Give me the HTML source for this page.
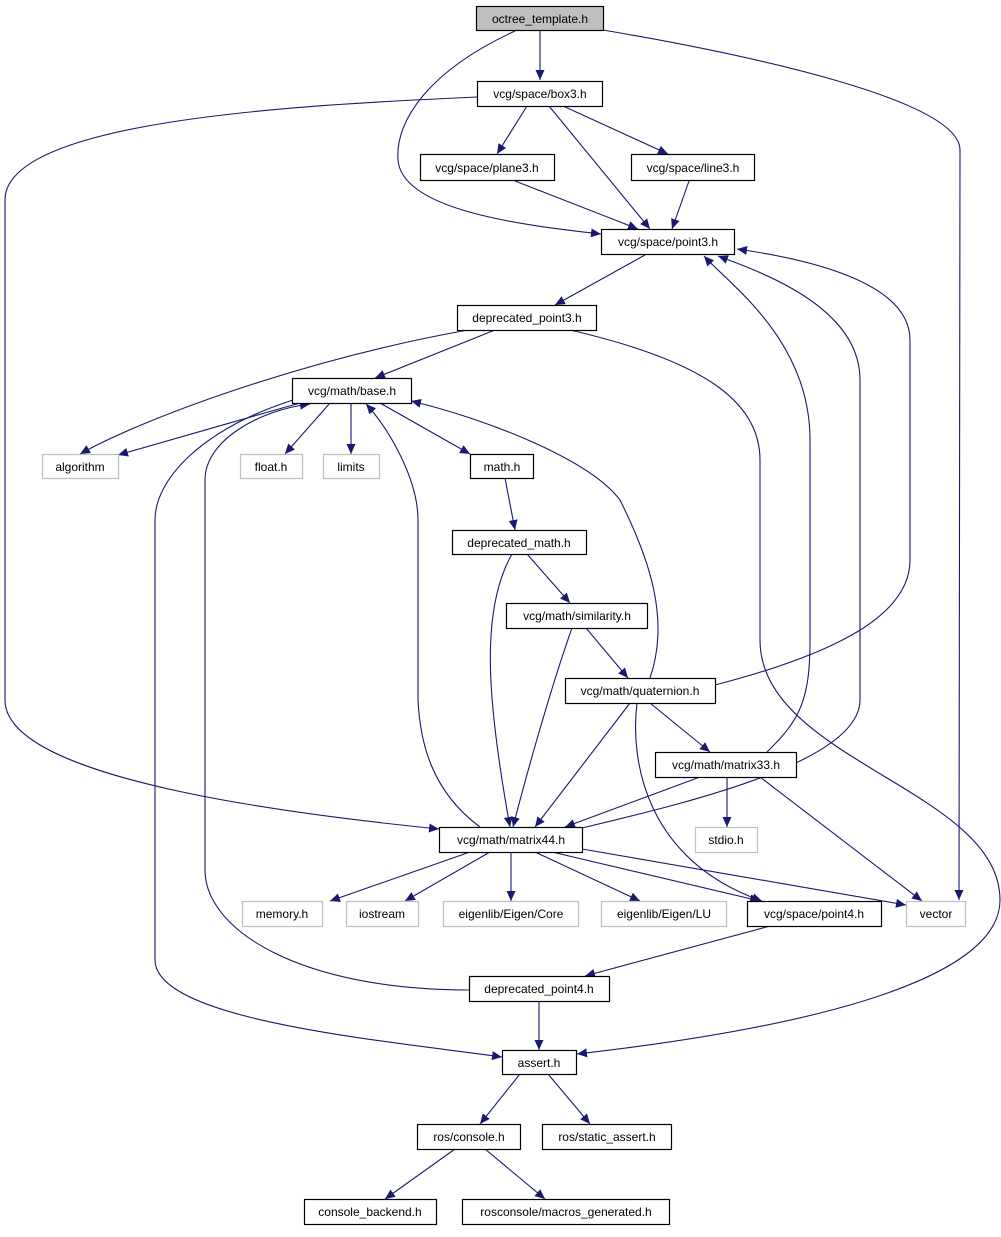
<!DOCTYPE html>
<html><head><meta charset="utf-8"><style>
html,body{margin:0;padding:0;background:#fff;}
svg text{font-family:"Liberation Sans",sans-serif;font-size:12px;text-anchor:middle;}
</style></head><body>
<svg width="1001" height="1232" viewBox="0 0 1001 1232" xmlns="http://www.w3.org/2000/svg">
<defs>
<marker id="a" markerUnits="userSpaceOnUse" markerWidth="11" markerHeight="9" refX="10" refY="4.5" orient="auto">
<path d="M0,0 L10,4.5 L0,9 Z" fill="#191970"/>
</marker>
</defs>
<g fill="none" stroke="#191970" stroke-width="1.1" marker-end="url(#a)">
<path d="M540,31 L540,80"/>
<path d="M515,31 C430,70 395,120 398,160 C402,210 520,225 601,234"/>
<path d="M603,30 C750,55 960,100 960,150 L959,900"/>
<path d="M527,106 L497,154"/>
<path d="M549,106 L650,229"/>
<path d="M563,106 L668,154"/>
<path d="M477,97 C300,105 5,120 5,200 L5,700 C5,780 300,815 439,829"/>
<path d="M515,181 L638,229"/>
<path d="M689,181 L672,229"/>
<path d="M645,255 L555,305"/>
<path d="M495,330 L375,378"/>
<path d="M468,330 C300,360 140,420 80,454"/>
<path d="M570,330 C700,360 760,400 760,460 L760,640 C760,760 1000,790 1000,900 C1000,1000 700,1040 577,1054"/>
<path d="M300,403 C240,420 170,440 118,455"/>
<path d="M330,403 L285,454"/>
<path d="M351,403 L351,454"/>
<path d="M380,403 L470,454"/>
<path d="M505,478 L515,530"/>
<path d="M527,554 L570,603"/>
<path d="M512,554 C480,610 487,700 510,827"/>
<path d="M586,628 L628,678"/>
<path d="M572,628 C550,690 525,780 513,827"/>
<path d="M630,703 L535,827"/>
<path d="M650,678 C670,620 650,560 620,500 C590,460 490,420 411,401"/>
<path d="M715,685 C850,650 910,610 910,560 L910,340 C910,280 800,258 737,249"/>
<path d="M650,703 L710,752"/>
<path d="M637,703 C630,760 645,860 762,901"/>
<path d="M767,752 C800,720 810,700 810,640 L810,440 C810,340 730,285 704,256"/>
<path d="M700,777 L565,827"/>
<path d="M727,777 L727,827"/>
<path d="M760,777 L922,901"/>
<path d="M582,828 C700,800 860,760 860,700 L860,380 C860,310 770,275 718,256"/>
<path d="M480,827 C430,790 420,740 418,700 L418,520 C418,480 390,430 366,404"/>
<path d="M470,852 L330,901"/>
<path d="M490,852 L405,901"/>
<path d="M511,852 L511,901"/>
<path d="M535,852 L640,901"/>
<path d="M552,852 L760,901"/>
<path d="M582,849 L906,905"/>
<path d="M770,926 L585,976"/>
<path d="M469,990 C300,990 205,930 205,870 L205,480 C205,440 260,410 310,404"/>
<path d="M539,1001 L539,1050"/>
<path d="M293,400 C200,430 155,480 155,520 L155,960 C155,1020 380,1040 502,1057"/>
<path d="M520,1074 L480,1124"/>
<path d="M548,1074 L590,1124"/>
<path d="M455,1149 L385,1199"/>
<path d="M485,1149 L545,1199"/>
</g>
<g stroke-width="1.2">
<rect x="476.5" y="6.5" width="127" height="24" fill="#bfbfbf" stroke="#000"/>
<rect x="477.5" y="81.5" width="125" height="25" fill="#fff" stroke="#000"/>
<rect x="420.5" y="154.5" width="134" height="26" fill="#fff" stroke="#000"/>
<rect x="631.5" y="154.5" width="123" height="26" fill="#fff" stroke="#000"/>
<rect x="601.5" y="229.5" width="133" height="25" fill="#fff" stroke="#000"/>
<rect x="457.5" y="305.5" width="139" height="25" fill="#fff" stroke="#000"/>
<rect x="292.5" y="378.5" width="119" height="25" fill="#fff" stroke="#000"/>
<rect x="42.5" y="454.5" width="76" height="24" fill="#fff" stroke="#bfbfbf"/>
<rect x="240.5" y="454.5" width="62" height="24" fill="#fff" stroke="#bfbfbf"/>
<rect x="323.5" y="454.5" width="56" height="24" fill="#fff" stroke="#bfbfbf"/>
<rect x="470.5" y="454.5" width="63" height="24" fill="#fff" stroke="#000"/>
<rect x="452.5" y="530.5" width="134" height="24" fill="#fff" stroke="#000"/>
<rect x="506.5" y="603.5" width="141" height="25" fill="#fff" stroke="#000"/>
<rect x="565.5" y="678.5" width="150" height="25" fill="#fff" stroke="#000"/>
<rect x="655.5" y="752.5" width="141" height="25" fill="#fff" stroke="#000"/>
<rect x="439.5" y="827.5" width="143" height="25" fill="#fff" stroke="#000"/>
<rect x="695.5" y="827.5" width="62" height="25" fill="#fff" stroke="#bfbfbf"/>
<rect x="242.5" y="901.5" width="80" height="25" fill="#fff" stroke="#bfbfbf"/>
<rect x="346.5" y="901.5" width="72" height="25" fill="#fff" stroke="#bfbfbf"/>
<rect x="443.5" y="901.5" width="135" height="25" fill="#fff" stroke="#bfbfbf"/>
<rect x="601.5" y="901.5" width="125" height="25" fill="#fff" stroke="#bfbfbf"/>
<rect x="747.5" y="901.5" width="134" height="25" fill="#fff" stroke="#000"/>
<rect x="906.5" y="901.5" width="59" height="25" fill="#fff" stroke="#bfbfbf"/>
<rect x="469.5" y="976.5" width="140" height="25" fill="#fff" stroke="#000"/>
<rect x="502.5" y="1050.5" width="74" height="24" fill="#fff" stroke="#000"/>
<rect x="417.5" y="1124.5" width="103" height="25" fill="#fff" stroke="#000"/>
<rect x="542.5" y="1124.5" width="129" height="25" fill="#fff" stroke="#000"/>
<rect x="304.5" y="1199.5" width="132" height="25" fill="#fff" stroke="#000"/>
<rect x="462.5" y="1199.5" width="207" height="25" fill="#fff" stroke="#000"/>
</g>
<g fill="#000">
<text x="540" y="23">octree_template.h</text>
<text x="540" y="98">vcg/space/box3.h</text>
<text x="487" y="172">vcg/space/plane3.h</text>
<text x="693" y="172">vcg/space/line3.h</text>
<text x="668" y="246">vcg/space/point3.h</text>
<text x="527" y="322">deprecated_point3.h</text>
<text x="352" y="395">vcg/math/base.h</text>
<text x="80" y="471">algorithm</text>
<text x="271" y="471">float.h</text>
<text x="351" y="471">limits</text>
<text x="502" y="471">math.h</text>
<text x="519" y="547">deprecated_math.h</text>
<text x="577" y="620">vcg/math/similarity.h</text>
<text x="640" y="695">vcg/math/quaternion.h</text>
<text x="726" y="769">vcg/math/matrix33.h</text>
<text x="511" y="844">vcg/math/matrix44.h</text>
<text x="726" y="844">stdio.h</text>
<text x="282" y="918">memory.h</text>
<text x="382" y="918">iostream</text>
<text x="511" y="918">eigenlib/Eigen/Core</text>
<text x="664" y="918">eigenlib/Eigen/LU</text>
<text x="814" y="918">vcg/space/point4.h</text>
<text x="936" y="918">vector</text>
<text x="539" y="993">deprecated_point4.h</text>
<text x="539" y="1067">assert.h</text>
<text x="469" y="1141">ros/console.h</text>
<text x="607" y="1141">ros/static_assert.h</text>
<text x="370" y="1216">console_backend.h</text>
<text x="566" y="1216">rosconsole/macros_generated.h</text>
</g>
<g fill="#000" font-size="0"></g>
</svg>
</body></html>
